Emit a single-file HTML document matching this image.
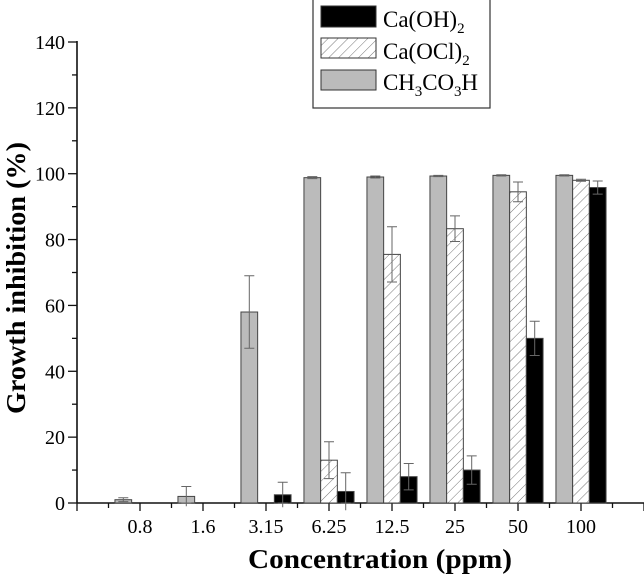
<!DOCTYPE html>
<html><head><meta charset="utf-8"><style>
body{margin:0;background:#fff}
svg{display:block;font-family:"Liberation Serif",serif}
</style></head><body>
<svg width="644" height="581" viewBox="0 0 644 581">
<defs>
<pattern id="hatch" patternUnits="userSpaceOnUse" width="7" height="7" patternTransform="rotate(45)">
<rect width="7" height="7" fill="#fff"/><line x1="0" y1="0" x2="0" y2="7" stroke="#777" stroke-width="1"/>
</pattern>
</defs>
<g id="axes"></g>
<g id="bars"></g>
<g id="legend">
<rect x="313" y="-1" width="177" height="109" fill="#fff" stroke="#333" stroke-width="1.2"/>
<rect x="321" y="6" width="55" height="21" fill="#000" stroke="#333"/>
<text x="383" y="27" font-size="23">Ca(OH)<tspan font-size="15" dy="6">2</tspan></text>
<rect x="321" y="38" width="55" height="20" fill="url(#hatch)" stroke="#333"/>
<text x="383" y="59" font-size="23">Ca(OCl)<tspan font-size="15" dy="6">2</tspan></text>
<rect x="321" y="70" width="55" height="20" fill="#bbb" stroke="#333"/>
<text x="383" y="90" font-size="23" textLength="95">CH<tspan font-size="15" dy="6">3</tspan><tspan dy="-6">CO</tspan><tspan font-size="15" dy="6">3</tspan><tspan dy="-6">H</tspan></text>
</g>
<text x="0" y="0" transform="translate(25,278) rotate(-90)" text-anchor="middle" font-size="27" font-weight="bold" textLength="272" lengthAdjust="spacingAndGlyphs">Growth inhibition (%)</text>
<text x="380" y="568" text-anchor="middle" font-size="27" font-weight="bold" textLength="264" lengthAdjust="spacingAndGlyphs">Concentration (ppm)</text>
</svg>
<script>
const categories = ["0.8","1.6","3.15","6.25","12.5","25","50","100"];
const peraceticValues = [1, 2, 58, 98.8, 99, 99.3, 99.5, 99.5];
const peraceticErrors = [0.6, 3, 11, 0.3, 0.3, 0.2, 0.2, 0.2];
const hypochloriteValues = [0, 0, 0, 13, 75.5, 83.3, 94.5, 98];
const hypochloriteErrors = [0, 0, 0, 5.6, 8.4, 3.9, 3, 0.3];
const hydroxideValues = [0, 0, 2.5, 3.5, 8, 10, 50, 95.8];
const hydroxideErrors = [0, 0, 3.8, 5.7, 4, 4.3, 5.2, 2];
const yTicks = [0, 20, 40, 60, 80, 100, 120, 140];

const NS = "http://www.w3.org/2000/svg";
const x0 = 77, step = 63, y0 = 503, yTop = 42, yMax = 140, bw = 16.7;
const xPos = i => x0 + step * (i + 1);
const yPos = v => y0 - (v / yMax) * (y0 - yTop);
function mk(tag, attrs, parent) {
  const e = document.createElementNS(NS, tag);
  for (const k in attrs) e.setAttribute(k, attrs[k]);
  parent.appendChild(e);
  return e;
}
const axes = document.getElementById("axes");
const bars = document.getElementById("bars");
const ax = mk("line", {x1: x0, y1: yTop - 1, x2: x0, y2: y0, stroke: "#111", "stroke-width": 1.6}, axes);


const bx = mk("line", {x1: x0, y1: y0, x2: 644, y2: y0, stroke: "#111", "stroke-width": 1.6}, axes);


for (let v = 0; v <= yMax; v += 10) {
  const major = v % 20 === 0;
  mk("line", {x1: major ? x0 - 9 : x0 - 5, y1: yPos(v), x2: x0, y2: yPos(v), stroke: "#111", "stroke-width": 1.3}, axes);
}
yTicks.forEach(v => {
  const t = mk("text", {x: x0 - 12, y: yPos(v) + 7, "text-anchor": "end", "font-size": 20}, axes);
  t.textContent = v;
  
  
});
for (let k = 0; k <= 18; k++) {
  const x = x0 + k * step / 2;
  if (x > 644) break;
  mk("line", {x1: x, y1: y0, x2: x, y2: y0 + (k % 2 === 0 ? 8 : 5), stroke: "#111", "stroke-width": 1.3}, axes);
}
categories.forEach((c, i) => {
  const t = mk("text", {x: xPos(i), y: y0 + 30, "text-anchor": "middle", "font-size": 20}, axes);
  t.textContent = c;
  
  
});
const series = [
  {vals: peraceticValues, errs: peraceticErrors, fill: "#bbb", name: "ch3co3h"},
  {vals: hypochloriteValues, errs: hypochloriteErrors, fill: "url(#hatch)", name: "caocl2"},
  {vals: hydroxideValues, errs: hydroxideErrors, fill: "#000", name: "caoh2"}
];
series.forEach((s, si) => {
  categories.forEach((c, i) => {
    const v = s.vals[i];
    if (v <= 0) return;
    const x = xPos(i) - 1.5 * bw + si * bw;
    const r = mk("rect", {x: x, y: yPos(v), width: bw, height: y0 - yPos(v), fill: s.fill, stroke: "#444", "stroke-width": 1}, bars);
    
    
    const e = s.errs[i];
    if (e > 0) {
      const cx = x + bw / 2;
      const eb = mk("path", {d: `M${cx},${yPos(v - e)}V${yPos(v + e)}M${cx - 5},${yPos(v + e)}H${cx + 5}M${cx - 5},${yPos(Math.max(v - e, 0))}H${cx + 5}`, stroke: "#666", "stroke-width": 1, fill: "none"}, bars);
      
      
    }
  });
});
</script>
</body></html>
